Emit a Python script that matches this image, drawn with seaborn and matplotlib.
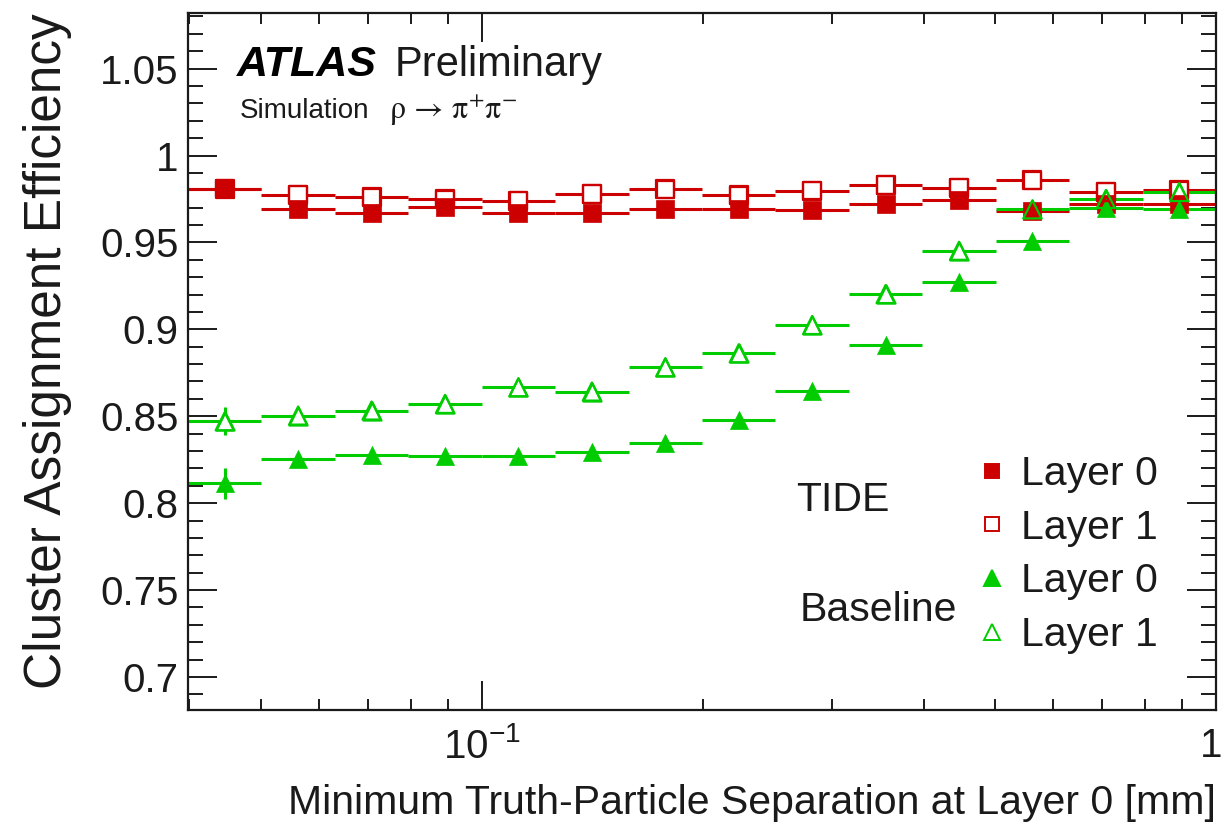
import numpy as np
import pandas as pd
import matplotlib
matplotlib.use("Agg")
import matplotlib.pyplot as plt
from matplotlib.lines import Line2D
from matplotlib.transforms import ScaledTranslation
from matplotlib.ticker import FixedLocator, MultipleLocator, LogLocator, NullFormatter
import seaborn as sns

# Binning: 14 logarithmic bins from 10^-1.4 to 1 mm
bin_edges = np.logspace(-1.4, 0.0, 15)
bin_centers = np.sqrt(bin_edges[:-1] * bin_edges[1:])

# Cluster assignment efficiency per bin
tide_layer0 = [0.981, 0.969, 0.967, 0.9705, 0.967, 0.967, 0.969, 0.9695, 0.9688, 0.972, 0.9745, 0.968, 0.972, 0.972]
tide_layer1 = [0.981, 0.9774, 0.976, 0.9747, 0.974, 0.9778, 0.9806, 0.977, 0.9797, 0.983, 0.9816, 0.9858, 0.979, 0.980]
base_layer0 = [0.8115, 0.8255, 0.8278, 0.8274, 0.8272, 0.8293, 0.8345, 0.8481, 0.8644, 0.8912, 0.927, 0.951, 0.970, 0.969]
base_layer1 = [0.8471, 0.8504, 0.8533, 0.8571, 0.8667, 0.8642, 0.8782, 0.8862, 0.9025, 0.9203, 0.9452, 0.969, 0.975, 0.979]

# Statistical uncertainties
tide_err0 = [0.002] * 14
tide_err1 = [0.002] * 14
base_err0 = [0.009] + [0.003] * 13
base_err1 = [0.008] + [0.003] * 13

legend_labels = ["Layer 0", "Layer 1", "Layer 0", "Layer 1"]
x_tick_labels = [r"$10^{-1}$", "1"]
y_ticks = [0.7, 0.75, 0.8, 0.85, 0.9, 0.95, 1.0, 1.05]
y_tick_labels = ["0.7", "0.75", "0.8", "0.85", "0.9", "0.95", "1", "1.05"]

RED = "#cc0000"
GREEN = "#00cc00"
INK = "#1a1a1a"

sns.set_theme(style="ticks")
plt.rcParams["font.family"] = ["Liberation Sans", "DejaVu Sans"]
plt.rcParams["mathtext.fontset"] = "custom"
plt.rcParams["mathtext.rm"] = "Liberation Sans"
plt.rcParams["mathtext.it"] = "Liberation Sans:italic"
plt.rcParams["mathtext.bf"] = "Liberation Sans:bold"

fig = plt.figure(figsize=(12.23, 8.32), dpi=100)
ax = fig.add_axes([0.1537, 0.1466, 0.8406, 0.8378])
ax.set_xscale("log")

xerr = np.vstack([bin_centers - bin_edges[:-1], bin_edges[1:] - bin_centers])

series = [
    ("TIDE", "Layer 0", tide_layer0, tide_err0, RED, "s", True),
    ("TIDE", "Layer 1", tide_layer1, tide_err1, RED, "s", False),
    ("Baseline", "Layer 0", base_layer0, base_err0, GREEN, "^", True),
    ("Baseline", "Layer 1", base_layer1, base_err1, GREEN, "^", False),
]

frames = []
for algo, layer, vals, errs, col, mk, filled in series:
    frames.append(pd.DataFrame({"sep": bin_centers, "eff": vals, "err": errs,
                                "algo": algo, "layer": layer}))
data = pd.concat(frames, ignore_index=True)

handles = []
for algo, layer, vals, errs, col, mk, filled in series:
    sub = data[(data.algo == algo) & (data.layer == layer)]
    ax.errorbar(sub["sep"], sub["eff"], xerr=xerr, yerr=sub["err"], fmt="none",
                ecolor=col, elinewidth=2.2, capsize=0, zorder=2)
    size = 12.5 if mk == "s" else 13.0
    if filled:
        sns.scatterplot(data=sub, x="sep", y="eff", marker=mk, s=size ** 2,
                        color=col, edgecolor=col, linewidth=0.5, ax=ax, zorder=4)
    else:
        # white core hides the bar behind the open marker
        sns.scatterplot(data=sub, x="sep", y="eff", marker=mk, s=size ** 2,
                        facecolor="white", edgecolor=col, linewidth=1.6, ax=ax, zorder=3)
        sns.scatterplot(data=sub, x="sep", y="eff", marker=mk, s=size ** 2,
                        facecolor="none", edgecolor=col, linewidth=1.6, ax=ax, zorder=5)
    handles.append(Line2D([], [], linestyle="none", marker=mk,
                          markersize=(10 if mk == "s" else 11),
                          markerfacecolor=(col if filled else "none"),
                          markeredgecolor=col, markeredgewidth=1.4))

ax.set_xlim(bin_edges[0], bin_edges[-1])
ax.set_ylim(0.681, 1.082)

ax.xaxis.set_major_locator(FixedLocator([0.1, 1.0]))
ax.set_xticklabels(x_tick_labels)
ax.xaxis.set_minor_locator(LogLocator(base=10, subs=np.arange(2, 10)))
ax.xaxis.set_minor_formatter(NullFormatter())
ax.yaxis.set_major_locator(FixedLocator(y_ticks))
ax.set_yticklabels(y_tick_labels)
ax.yaxis.set_minor_locator(MultipleLocator(0.01))

ax.tick_params(which="both", direction="in", top=True, right=True,
               colors=INK, labelcolor=INK, width=1.4, labelsize=29)
ax.tick_params(which="major", length=21)
ax.xaxis.set_tick_params(which="minor", length=8)
ax.yaxis.set_tick_params(which="minor", length=11)
ax.tick_params(axis="y", pad=7)
ax.tick_params(axis="x", pad=12)
for sp in ax.spines.values():
    sp.set_linewidth(1.6)
    sp.set_color(INK)

# keep the "1" at the right end inside the canvas
last_label = ax.get_xticklabels()[-1]
last_label.set_transform(last_label.get_transform()
                         + ScaledTranslation(-5 / 100, 0, fig.dpi_scale_trans))

ax.set_xlabel("Minimum Truth-Particle Separation at Layer 0 [mm]", fontsize=29.5,
              loc="right", color=INK, labelpad=13)
ax.set_ylabel("Cluster Assignment Efficiency", fontsize=37, loc="top", color=INK,
              labelpad=20)

ax.text(0.048, 0.926, "ATLAS", transform=ax.transAxes, fontsize=31,
        fontweight="bold", fontstyle="italic", color="black", va="center")
ax.text(0.2014, 0.926, "Preliminary", transform=ax.transAxes, fontsize=30,
        color=INK, va="center")
ax.text(0.050, 0.860, "Simulation", transform=ax.transAxes, fontsize=20,
        color=INK, va="center")
ax.text(0.196, 0.860, r"$\mathrm{\rho\,\rightarrow\,\pi^{+}\pi^{-}}$", transform=ax.transAxes,
        fontsize=23, color=INK, va="center", math_fontfamily="stix")

ax.text(0.592, 0.301, "TIDE", transform=ax.transAxes, fontsize=29.5, color=INK, va="center")
ax.text(0.595, 0.143, "Baseline", transform=ax.transAxes, fontsize=29.5, color=INK, va="center")

leg = ax.legend(handles, legend_labels, loc="upper left", bbox_to_anchor=(0.7425, 0.395),
                frameon=False, fontsize=29.5, handlelength=1.0, handletextpad=0.2,
                labelspacing=0.38, borderpad=0.0)
for t in leg.get_texts():
    t.set_color(INK)

sns.despine(ax=ax, top=False, right=False)
fig.savefig("out.png", dpi=100)
